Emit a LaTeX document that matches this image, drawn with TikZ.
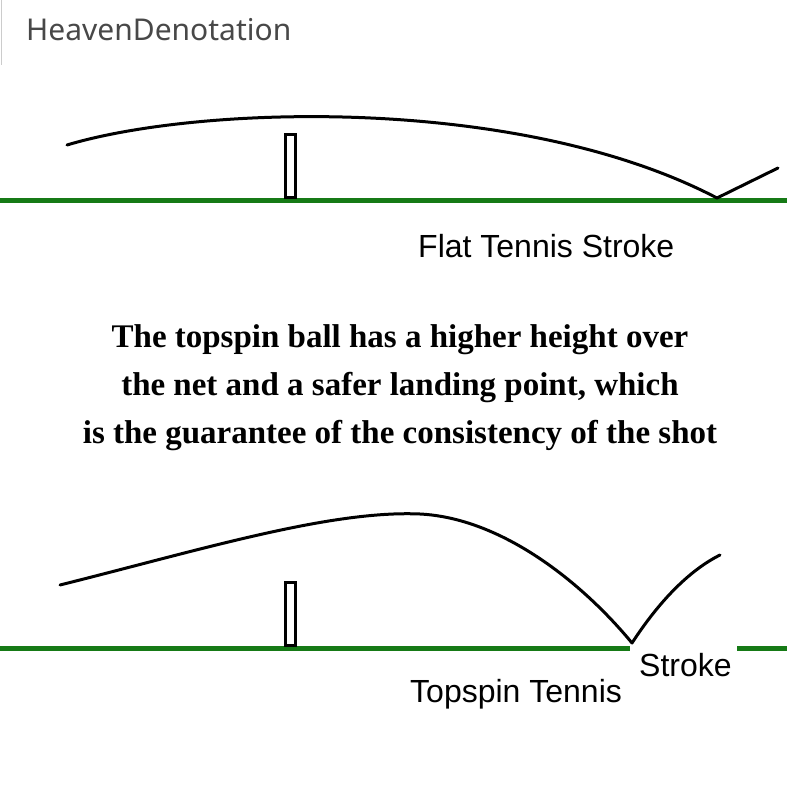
\documentclass[tikz,border=0pt]{standalone}
\usepackage{fontspec}
\setmainfont{Liberation Serif}
\newfontfamily\labelfont{Liberation Sans}
\newfontfamily\markfont{Noto Sans}
\definecolor{courtgreen}{RGB}{22,122,22}
\definecolor{markgray}{RGB}{72,72,72}
\begin{document}
\begin{tikzpicture}[x=1pt, y=-1pt,
  court/.style={draw=courtgreen, line width=5pt},
  flight/.style={draw=black, line width=3pt, line cap=round, line join=round},
  netpost/.style={draw=black, fill=white, line width=3pt},
  caption/.style={font=\labelfont\fontsize{32}{32}\selectfont, inner sep=0pt},
  claim/.style={font=\bfseries\fontsize{33}{48}\selectfont, align=center, inner sep=0pt}]
\useasboundingbox[fill=white] (0,0) rectangle (800,800);
\draw[gray!40, line width=1pt] (1,0) -- (1,65);
\node[font=\markfont\fontsize{30}{30}\selectfont, text=markgray, anchor=west, inner sep=0pt] (brand) at (26,30) {HeavenDenotation};

% flat stroke
\draw[court] (0,200) -- (787,200);
\draw[netpost] (285,134) rectangle (295,197);
\draw[flight] (67,145) .. controls (200,105) and (520,95) .. (717,198) -- (778,168);
\node[caption, anchor=west] (flat) at (418,246) {Flat Tennis Stroke};

% explanation
\node[claim] (note) at (400,388) {The topspin ball has a higher height over\\
the net and a safer landing point, which\\
is the guarantee of the consistency of the shot};

% topspin stroke
\draw[court] (0,648) -- (630,648);
\draw[court] (737,648) -- (787,648);
\draw[netpost] (285,582) rectangle (295,645);
\draw[flight] (60,585) .. controls (200,550) and (330,510) .. (420,514)
  .. controls (500,518) and (580,580) .. (632,643)
  .. controls (660,600) and (690,570) .. (720,555);
\node[caption, anchor=west] (bounce) at (639,665) {Stroke};
\node[caption, anchor=west] (topspin) at (410,694) {Topspin Tennis};
\end{tikzpicture}
\end{document}
